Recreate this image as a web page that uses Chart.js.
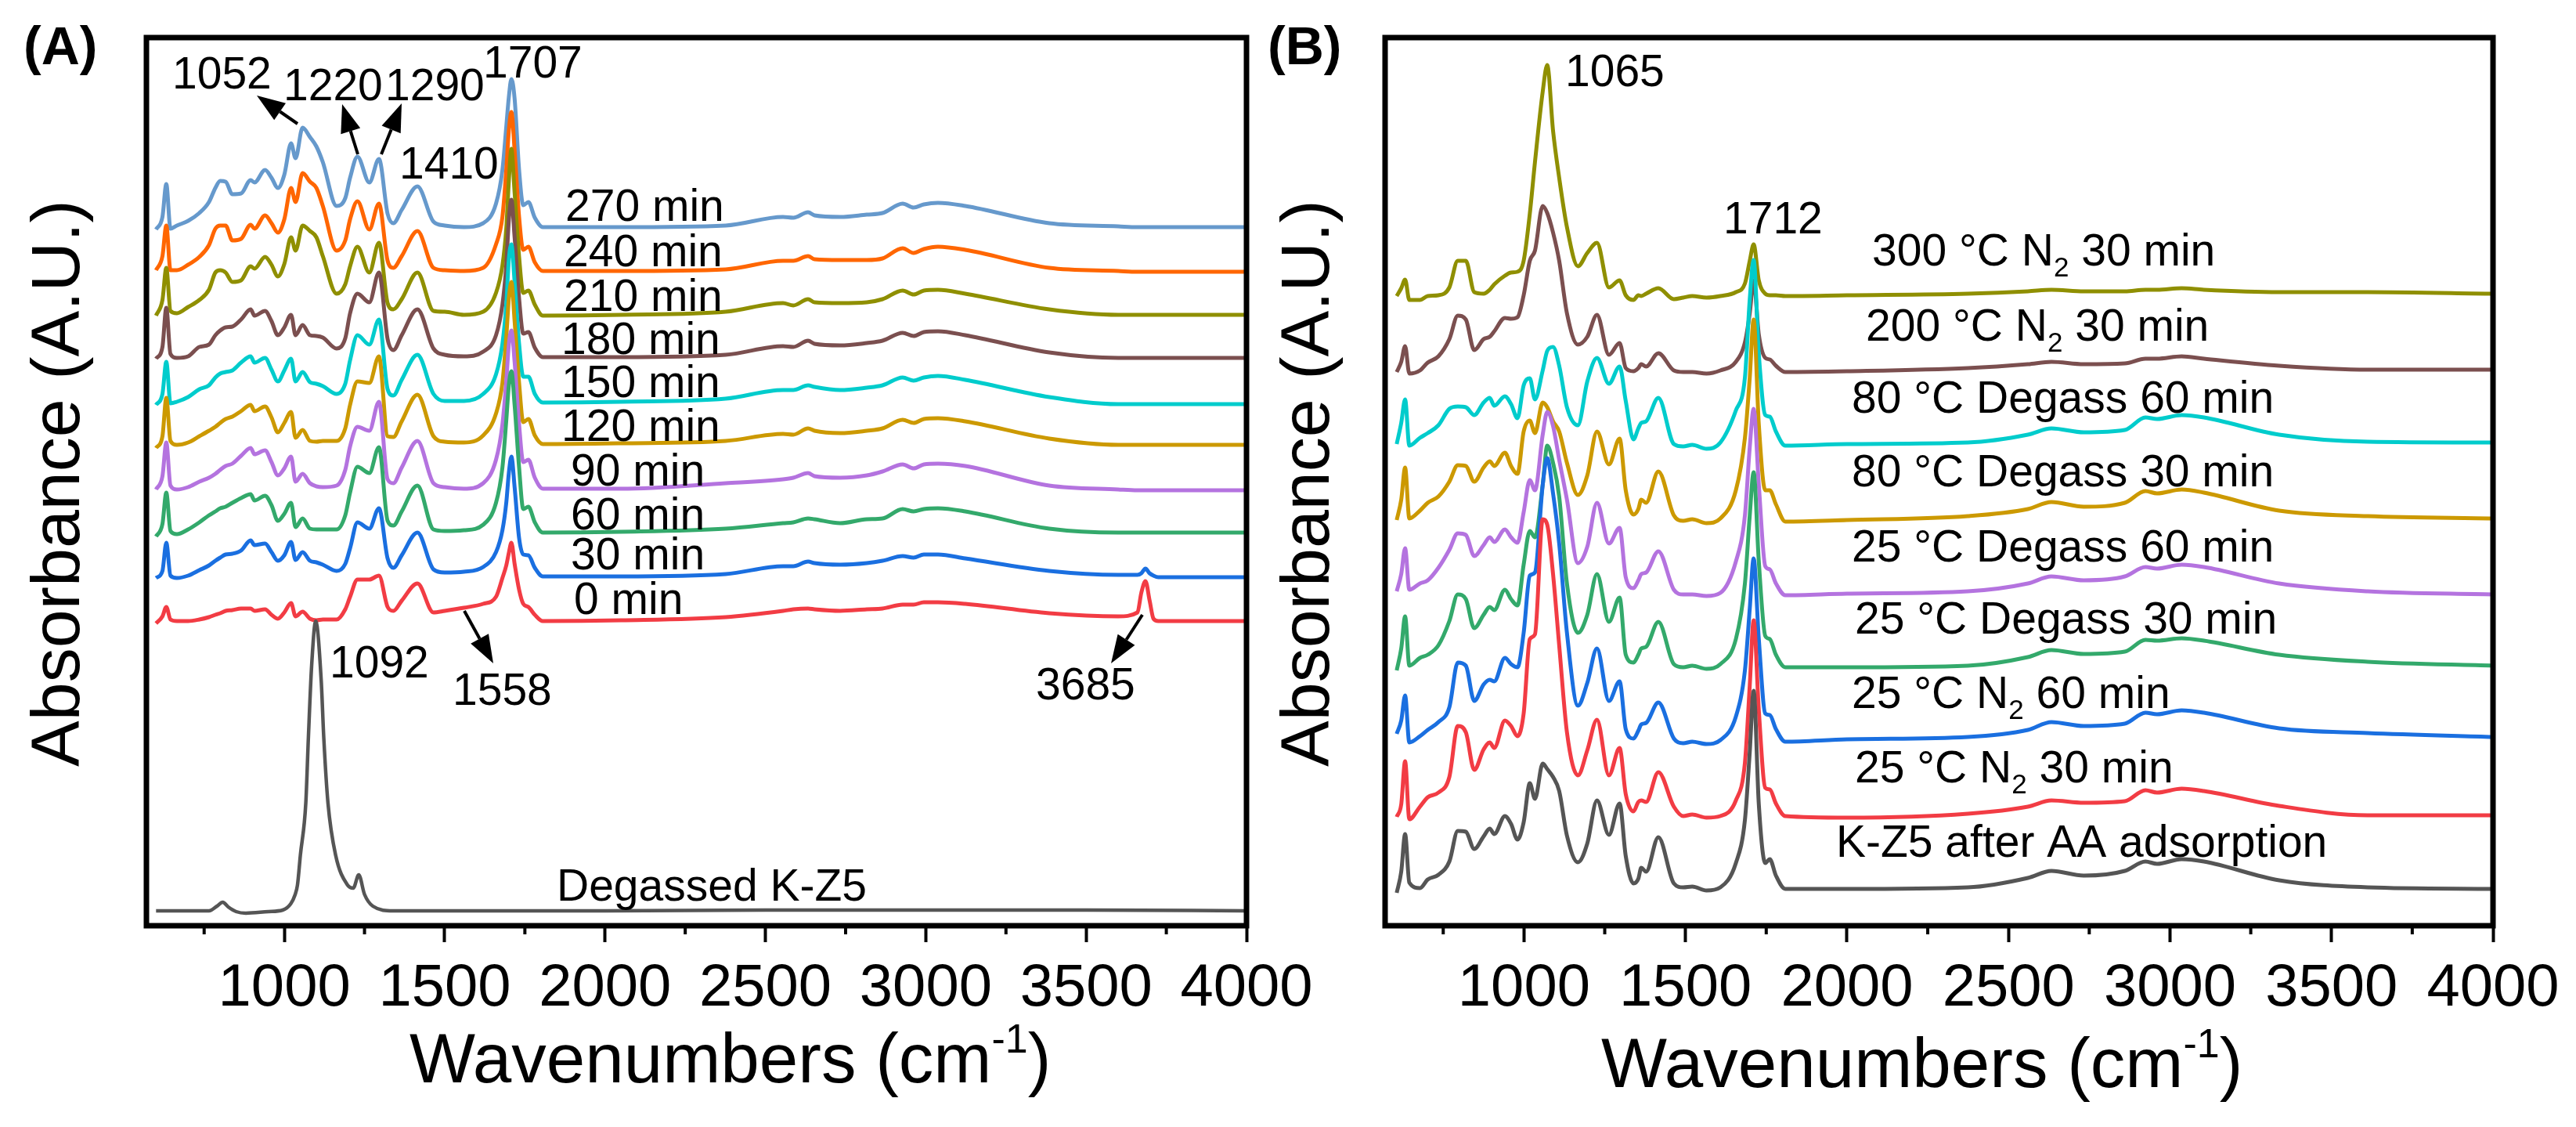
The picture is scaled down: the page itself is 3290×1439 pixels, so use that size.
<!DOCTYPE html>
<html>
<head>
<meta charset="utf-8">
<title>Absorbance spectra</title>
<script src="https://cdn.jsdelivr.net/npm/chart.js@4"></script>
<style>
  html, body { margin: 0; background: #fff; }
  canvas { position: absolute; top: 0; }
  #chartA { left: 0; }
  #chartB { left: 1540px; }
</style>
</head>
<body>
<canvas id="chartA" width="1780" height="1439"></canvas>
<canvas id="chartB" width="1750" height="1439"></canvas>
<script>
// Panel A: stacked spectra. y is arbitrary absorbance
const wnA = [600,620,632,645,665,700,735,765,785,800,817,838,865,895,907,940,960,980,1000,1021,1035,1057,1080,1100,1120,1163,1190,1205,1228,1265,1295,1322,1340,1366,1415,1465,1500,
  1560,1620,1660,1680,1692,1700,1708,1718,1732,1745,1761,1781,1806,
  2050,2376,2555,2587,2633,2653,2733,2816,2865,2928,2962,2994,3038,3123,3385,3600,3660,3672,3685,3698,3710,3725,4000];

const min0 = [386,395,407,391,389,389,391,394,397,399,402,403,405,405,402,404,397,392,400,412,395,401,392,390,391,391,404,420,442,442,447,407,402,415,437,400,402,
  406,411,420,444,460,476,489,462,429,411,407,397,389,
  390,394,402,404,405,404,402,404,405,410,410,413,413,411,399,395,400,425,440,415,392,389,389];
const min30 = [444,453,489,447,444,447,454,460,466,470,474,475,479,492,486,488,477,466,473,490,467,477,466,464,461,453,462,482,515,507,533,469,457,473,502,455,451,
  452,458,477,505,540,578,599,560,495,474,473,457,446,
  446,449,459,459,465,463,461,463,466,472,470,474,474,469,453,448,448,450,456,450,447,445,445];
const min60 = [497,513,553,504,500,506,515,524,529,533,535,540,546,551,543,549,537,517,526,540,509,520,507,506,506,506,524,553,586,578,611,517,511,529,562,506,504,
  505,512,540,585,645,690,708,665,585,532,535,515,502,
  503,507,514,515,520,519,514,519,520,532,529,532,533,529,507,502,502,502,502,502,502,502,502];
const min90 = [557,574,617,562,557,560,567,572,577,582,587,590,600,610,602,607,592,575,584,599,567,577,565,561,560,562,582,612,637,632,669,570,565,585,619,565,560,
  558,565,595,640,695,742,760,720,640,592,595,572,558,
  558,565,570,572,578,574,572,575,580,589,584,589,590,587,562,557,556,556,556,556,556,556,556];
const min120 = [610,625,674,619,614,617,625,632,637,642,647,650,657,665,657,663,649,630,642,656,623,633,619,618,619,619,635,665,695,693,727,625,624,644,678,625,618,
  617,626,654,693,751,801,822,772,693,643,647,626,615,
  616,619,628,627,635,632,629,632,635,646,642,647,648,644,622,614,614,614,614,614,614,614,614];
const min150 = [665,679,720,667,669,675,685,690,700,705,707,709,719,727,719,725,710,695,709,724,695,707,694,692,689,679,692,722,754,742,774,685,677,697,729,679,670,
  670,679,704,743,793,851,870,822,743,701,701,679,668,
  669,673,684,684,690,688,684,687,690,700,696,700,702,697,675,666,666,666,666,666,666,666,666];
const min180 = [724,739,789,730,725,727,739,742,754,760,764,765,774,787,779,785,772,754,764,780,754,767,754,753,751,737,750,782,807,796,834,749,735,754,787,737,729,
  727,733,754,793,843,901,927,879,801,756,758,738,726,
  726,729,740,739,747,743,741,744,747,757,753,758,759,754,732,725,725,725,725,725,725,725,725];
const min210 = [779,799,840,785,782,790,799,812,834,837,834,822,824,842,839,854,844,829,845,879,862,894,887,879,855,807,819,842,867,834,872,795,787,800,834,785,784,
  780,784,808,843,890,951,992,936,854,808,811,793,779,
  780,784,795,792,800,796,795,796,800,811,806,811,812,807,787,780,780,780,780,780,780,780,780];
const min240 = [837,855,894,837,837,844,854,869,890,894,894,875,877,895,890,907,897,885,902,942,924,961,950,942,919,862,875,902,925,889,922,849,840,855,887,840,837,
  836,840,870,905,965,1015,1039,990,905,863,867,847,836,
  836,838,849,849,855,851,850,850,852,865,859,864,867,863,840,836,835,835,835,835,835,835,835];
const min270 = [889,905,947,890,894,900,910,924,942,951,950,934,935,952,949,965,955,942,959,999,980,1019,1007,995,975,919,929,955,982,949,979,909,897,914,944,899,894,
  892,897,922,965,1020,1058,1081,1056,965,920,924,904,892,
  892,894,905,904,911,907,905,908,910,922,917,921,923,919,897,893,892,892,892,892,892,892,892];

const wnDegassed = [600,700,765,790,808,825,850,880,950,995,1020,1033,1041,1050,1067,1075,1085,1098,1115,1123,1136,1160,1197,1215,1232,1250,1276,1339,1500,2000,2500,3000,3500,4000];
const degassed = [19,19,19,25,30,24,18,16,18,20,28,39,52,90,157,240,331,389,313,240,157,90,52,48,65,40,25,19,19,19,20,20,20,19];

// Panel B
const wnB = [606,620,632,645,678,702,735,769,795,820,846,875,894,908,941,960,980,999,1018,1034,1058,1072,1090,1109,1133,1167,1196,1226,1263,1296,1315,1339,1354,1363,1378,1416,1464,1493,1521,1565,1608,1656,1684,1699,1711,1727,1747,1761,1780,1809,
  2000,2374,2560,2633,2733,2860,2924,2960,3036,3105,3338,3612,4000];

const afterAds = [42,69,117,55,48,59,65,82,121,120,98,114,124,117,140,130,110,132,182,162,207,200,190,172,115,81,105,160,116,156,89,54,60,74,69,113,54,49,50,45,49,80,135,222,300,155,80,85,64,47,
  47,49,61,70,64,70,82,79,85,82,58,49,47];
const n2_25_30 = [139,155,210,136,152,164,170,190,255,247,199,225,234,227,262,255,242,271,366,372,519,512,449,358,247,192,224,263,192,227,168,146,158,160,158,196,152,140,142,138,140,160,208,307,390,275,176,174,156,140,
  138,143,152,160,157,159,173,170,175,172,153,141,141];
const n2_25_60 = [245,262,294,234,242,250,260,279,336,332,287,308,314,312,342,334,330,374,447,451,563,597,552,488,374,281,310,354,287,312,251,239,249,257,259,285,239,233,235,232,237,267,326,405,469,366,271,269,251,235,
  238,241,250,260,255,258,272,270,275,272,252,246,241];
const deg_25_30 = [326,354,395,332,342,346,358,389,423,417,380,397,407,403,429,417,409,461,504,496,563,613,591,548,437,374,397,449,388,419,346,336,346,354,356,388,334,330,332,328,334,366,437,524,579,465,370,366,346,330,
  330,332,343,352,347,350,365,364,367,364,346,337,332];
const deg_25_60 = [427,449,482,429,437,441,457,480,501,499,472,486,496,490,506,496,489,528,569,556,627,656,638,595,544,463,484,540,488,508,445,431,441,449,451,478,429,423,423,421,425,465,524,611,660,563,459,455,437,422,
  424,427,437,446,441,446,458,456,461,458,437,427,423];
const deg_80_30 = [518,544,585,520,530,540,548,567,588,587,567,585,593,587,604,587,577,631,645,629,668,662,644,631,591,550,575,631,589,622,556,525,532,544,540,580,524,517,519,514,520,556,623,700,774,640,556,556,538,516,
  518,523,532,541,535,540,555,552,557,553,530,523,520];
const deg_80_60 = [615,642,672,613,623,629,639,660,663,662,652,668,674,664,676,666,648,690,699,672,709,734,739,715,662,639,695,725,692,714,670,621,635,642,644,674,615,612,614,609,617,658,700,800,850,730,652,650,631,613,
  615,617,627,635,630,633,649,647,652,649,627,618,617];
const n2_200 = [707,720,740,705,709,719,727,749,779,774,735,749,752,759,776,775,777,805,849,862,919,910,885,849,782,742,752,780,729,744,712,708,712,717,714,731,709,707,707,705,709,720,745,782,824,755,725,723,715,707,
  708,712,717,720,717,718,724,724,727,724,715,710,710];
const n2_300 = [804,814,825,799,799,804,805,815,849,849,809,807,812,819,830,834,835,849,909,975,1065,1099,1015,955,892,842,859,872,815,824,805,799,805,804,807,814,800,802,804,802,804,809,820,849,870,824,807,805,805,804,
  805,807,810,812,810,810,812,812,814,812,809,809,807];

const xTicksMinor = [750,1250,1750,2250,2750,3250,3750];
const seriesNamesA = ['0 min','30 min','60 min','90 min','120 min','150 min','180 min','210 min','240 min','270 min'];
const seriesNamesB = ['K-Z5 after AA adsorption','25 °C N2 30 min','25 °C N2 60 min','25 °C Degass 30 min','25 °C Degass 60 min','80 °C Degass 30 min','80 °C Degass 60 min','200 °C N2 30 min','300 °C N2 30 min'];

const FONT = '"Liberation Sans", Arial, sans-serif';
const colorsA = ['#f23c44','#1a6fe0','#33a96b','#b473df','#cc9900','#00cccc','#7b4f4f','#8f8f00','#ff6600','#6699cc'];
const colorsB = ['#555555','#f23c44','#1a6fe0','#33a96b','#b473df','#cc9900','#00cccc','#7b4f4f','#8f8f00'];

function line(label, xs, ys, color, width) {
  return {
    label: label,
    data: xs.map((x, i) => ({ x: x, y: ys[i] })),
    borderColor: color,
    borderWidth: width,
    borderJoinStyle: 'round',
    pointRadius: 0,
    cubicInterpolationMode: 'monotone',
    fill: false
  };
}

// N2 -> subscript, everything else straight
function drawLabel(ctx, text, x, y, size) {
  ctx.textAlign = 'left';
  ctx.textBaseline = 'alphabetic';
  const parts = text.split('N2');
  parts.forEach((p, i) => {
    ctx.font = size + 'px ' + FONT;
    ctx.fillText(p, x, y);
    x += ctx.measureText(p).width;
    if (i < parts.length - 1) {
      ctx.fillText('N', x, y);
      x += ctx.measureText('N').width;
      ctx.font = Math.round(size * 0.62) + 'px ' + FONT;
      ctx.fillText('2', x, y + 14);
      x += ctx.measureText('2').width;
    }
  });
}

function arrow(ctx, x0, y0, x1, y1) {
  const a = Math.atan2(y1 - y0, x1 - x0);
  const hl = 36, hw = 13;
  const bx = x1 - Math.cos(a) * hl, by = y1 - Math.sin(a) * hl;
  ctx.strokeStyle = '#000';
  ctx.lineWidth = 4;
  ctx.beginPath();
  ctx.moveTo(x0, y0);
  ctx.lineTo(bx, by);
  ctx.stroke();
  ctx.fillStyle = '#000';
  ctx.beginPath();
  ctx.moveTo(x1, y1);
  ctx.lineTo(bx - Math.sin(a) * hw, by + Math.cos(a) * hw);
  ctx.lineTo(bx + Math.sin(a) * hw, by - Math.cos(a) * hw);
  ctx.closePath();
  ctx.fill();
}

const decor = {
  id: 'decor',
  afterDraw(chart, args, opts) {
    const ctx = chart.ctx, area = chart.chartArea, sx = chart.scales.x, dx = opts.offset;
    ctx.save();
    ctx.strokeStyle = '#000';
    ctx.lineWidth = 7;
    ctx.strokeRect(area.left, area.top, area.right - area.left, area.bottom - area.top);

    ctx.lineWidth = 4;
    xTicksMinor.forEach(v => {
      const px = sx.getPixelForValue(v);
      ctx.beginPath();
      ctx.moveTo(px, area.bottom);
      ctx.lineTo(px, area.bottom + 11);
      ctx.stroke();
    });

    ctx.fillStyle = '#000';
    opts.texts.forEach(t => drawLabel(ctx, t[0], t[1] - dx, t[2], 57));
    opts.arrows.forEach(a => arrow(ctx, a[0] - dx, a[1], a[2] - dx, a[3]));

    // panel letter
    ctx.font = 'bold 68px ' + FONT;
    ctx.textAlign = 'left';
    ctx.fillText(opts.letter[0], opts.letter[1] - dx, opts.letter[2]);

    // y title
    ctx.save();
    ctx.translate(opts.yTitle[0] - dx, opts.yTitle[1]);
    ctx.rotate(-Math.PI / 2);
    ctx.font = '88px ' + FONT;
    ctx.textAlign = 'center';
    ctx.fillText('Absorbance (A.U.)', 0, 0);
    ctx.restore();

    // x title with superscript
    const tx = opts.xTitle[0] - dx, ty = opts.xTitle[1];
    ctx.font = '89px ' + FONT;
    const main = 'Wavenumbers (cm';
    ctx.fillText(main, tx, ty);
    let x = tx + ctx.measureText(main).width;
    ctx.font = '52px ' + FONT;
    ctx.fillText('-1', x, ty - 38);
    x += ctx.measureText('-1').width;
    ctx.font = '89px ' + FONT;
    ctx.fillText(')', x, ty);
    ctx.restore();
  }
};

function makePanel(id, datasets, pad, decorOpts) {
  new Chart(document.getElementById(id), {
    type: 'line',
    data: { datasets: datasets },
    plugins: [decor],
    options: {
      responsive: false,
      animation: false,
      devicePixelRatio: 1,
      layout: { padding: pad },
      plugins: {
        legend: { display: false },
        title: { display: false },
        tooltip: { enabled: false },
        decor: decorOpts
      },
      scales: {
        x: {
          type: 'linear',
          min: 570,
          max: 4000,
          afterFit: s => { s.height = 257; },
          grid: {
            drawOnChartArea: false,
            tickLength: 21,
            tickWidth: 4,
            tickColor: c => (c.tick.value % 500 === 0 ? '#000' : 'rgba(0,0,0,0)')
          },
          border: { display: false },
          ticks: {
            stepSize: 250,
            includeBounds: false,
            autoSkip: false,
            maxRotation: 0,
            padding: 14,
            color: '#000',
            font: { family: 'Liberation Sans', size: 76 },
            callback: v => (v % 500 === 0 ? String(v) : '')
          }
        },
        y: { display: false, min: 0, max: 1134 }
      }
    }
  });
}

// earlier datasets are drawn on top, so the bottom traces go first
const seriesA = [min0, min30, min60, min90, min120, min150, min180, min210, min240, min270];
const datasetsA = [line('Degassed K-Z5', wnDegassed, degassed, '#555555', 4.5)]
  .concat(seriesA.map((s, i) => line(seriesNamesA[i], wnA, s, colorsA[i], 5)));

const seriesB = [afterAds, n2_25_30, n2_25_60, deg_25_30, deg_25_60, deg_80_30, deg_80_60, n2_200, n2_300];
const datasetsB = seriesB.map((s, i) => line(seriesNamesB[i], wnB, s, colorsB[i], 5));
datasetsA.forEach((d, i) => { d.order = i; });
datasetsB.forEach((d, i) => { d.order = i; });

makePanel('chartA', datasetsA, { left: 187, right: 188, top: 48, bottom: 0 }, {
  offset: 0,
  letter: ['(A)', 30, 82],
  yTitle: [101, 617],
  xTitle: [523, 1382],
  texts: [
    ['270 min', 722, 282], ['240 min', 720, 340], ['210 min', 720, 397], ['180 min', 717, 452], ['150 min', 717, 507],
    ['120 min', 717, 563], ['90 min', 729, 620], ['60 min', 729, 676], ['30 min', 729, 727], ['0 min', 733, 784],
    ['Degassed K-Z5', 711, 1150],
    ['1052', 220, 113], ['1220', 362, 128], ['1290', 492, 128], ['1410', 510, 228], ['1707', 617, 99],
    ['1092', 421, 865], ['1558', 578, 900], ['3685', 1323, 893]
  ],
  arrows: [[380, 158, 328, 122], [457, 197, 437, 133], [487, 197, 513, 132], [593, 780, 630, 847], [1459, 785, 1419, 847]]
});

makePanel('chartB', datasetsB, { left: 229, right: 106, top: 48, bottom: 0 }, {
  offset: 1540,
  letter: ['(B)', 1619, 82],
  yTitle: [1697, 617],
  xTitle: [2045, 1388],
  texts: [
    ['300 °C N2 30 min', 2391, 339], ['200 °C N2 30 min', 2383, 435], ['80 °C Degass 60 min', 2365, 527],
    ['80 °C Degass 30 min', 2365, 621], ['25 °C Degass 60 min', 2365, 717], ['25 °C Degass 30 min', 2369, 809],
    ['25 °C N2 60 min', 2365, 904], ['25 °C N2 30 min', 2369, 999], ['K-Z5 after AA adsorption', 2345, 1094],
    ['1065', 1999, 110], ['1712', 2201, 298]
  ],
  arrows: []
});
</script>
</body>
</html>
